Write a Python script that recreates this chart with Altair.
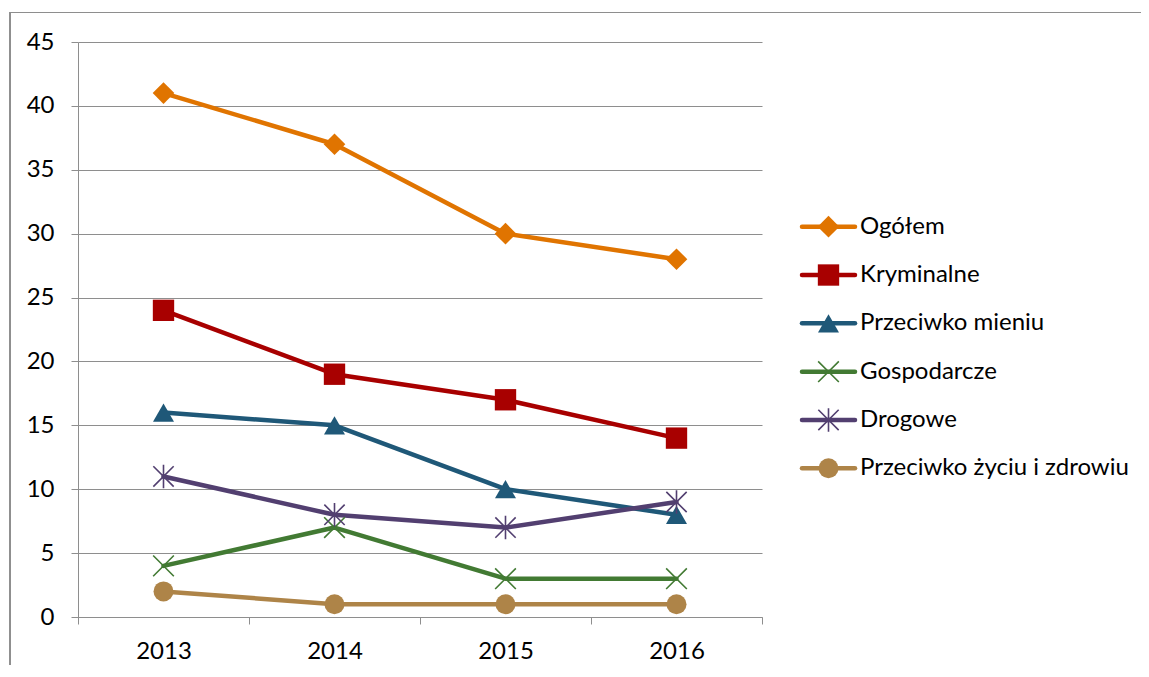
import altair as alt
import pandas as pd

years = ["2013", "2014", "2015", "2016"]
series = ["Ogółem", "Kryminalne", "Przeciwko mieniu", "Gospodarcze", "Drogowe",
          "Przeciwko życiu i zdrowiu"]
ogolem = [41, 37, 30, 28]
kryminalne = [24, 19, 17, 14]
przeciwko_mieniu = [16, 15, 10, 8]
gospodarcze = [4, 7, 3, 3]
drogowe = [11, 8, 7, 9]
przeciwko_zyciu = [2, 1, 1, 1]
y_ticks = [0, 5, 10, 15, 20, 25, 30, 35, 40, 45]

colors = ["#E07400", "#A80000", "#1F5878", "#427A33", "#523F70", "#AE8448"]
X_PATH = "M-1,-1L1,1M-1,1L1,-1"
STAR_PATH = "M-1,-1L1,1M-1,1L1,-1M0,-1.15L0,1.15"
shapes = ["diamond", "square", "triangle-up", X_PATH, STAR_PATH, "circle"]
sizes = [470, 400, 430, 361, 361, 420]
filled_series = ["Ogółem", "Kryminalne", "Przeciwko mieniu", "Przeciwko życiu i zdrowiu"]
stroked_series = ["Gospodarcze", "Drogowe"]

values = [ogolem, kryminalne, przeciwko_mieniu, gospodarcze, drogowe, przeciwko_zyciu]
rows = []
for s, vals in zip(series, values):
    for yr, v in zip(years, vals):
        rows.append({"series": s, "year": yr, "value": v})
df = pd.DataFrame(rows)
df_leg = pd.DataFrame({"series": series})

FONT = "Lato"
FS = 24
W, H = 1131, 650
GRID = "#8E8E8E"
TEXT = "#000000"

color_enc = alt.Color("series:N", scale=alt.Scale(domain=series, range=colors), legend=None)
shape_enc = alt.Shape("series:N", scale=alt.Scale(domain=series, range=shapes), legend=None)
size_enc = alt.Size("series:N", scale=alt.Scale(domain=series, range=sizes), legend=None)

x_enc = alt.X(
    "year:N",
    sort=years,
    scale=alt.Scale(domain=years, range=[68, 752], paddingInner=0, paddingOuter=0),
    axis=alt.Axis(
        title=None, orient="bottom", offset=605 - H, tickBand="extent", tickSize=7,
        domainColor=GRID, tickColor=GRID, domainWidth=1, tickWidth=1,
        labelFont=FONT, labelFontSize=FS, labelColor=TEXT, labelAngle=0,
        labelBaseline="alphabetic", labelPadding=34, grid=False,
    ),
)
y_enc = alt.Y(
    "value:Q",
    scale=alt.Scale(domain=[0, 45], range=[605, 30], nice=False, zero=True),
    axis=alt.Axis(
        title=None, orient="left", offset=-68, values=y_ticks, tickSize=7,
        domainColor=GRID, tickColor=GRID, gridColor=GRID, grid=True, gridWidth=1,
        labelFont=FONT, labelFontSize=FS, labelColor=TEXT, labelPadding=17,
    ),
)

lines = alt.Chart(df).mark_line(strokeWidth=4.5, strokeCap="round", strokeJoin="round").encode(
    x=x_enc, y=y_enc, color=color_enc
)
pts_filled = alt.Chart(df).transform_filter(
    alt.FieldOneOfPredicate(field="series", oneOf=filled_series)
).mark_point(filled=True, opacity=1).encode(
    x=x_enc, y=y_enc, color=color_enc, shape=shape_enc, size=size_enc
)
pts_stroked = alt.Chart(df).transform_filter(
    alt.FieldOneOfPredicate(field="series", oneOf=stroked_series)
).mark_point(filled=False, opacity=1, strokeWidth=1.6).encode(
    x=x_enc, y=y_enc, color=color_enc, shape=shape_enc, size=size_enc
)
main = alt.layer(lines, pts_filled, pts_stroked)

leg_x_scale = alt.Scale(domain=[0, 1], range=[792, 845], nice=False, zero=False)
leg_y = alt.Y("series:N", sort=series,
              scale=alt.Scale(type="point", domain=series, range=[214.7, 456.3], padding=0),
              axis=None)

leg_rule = alt.Chart(df_leg).mark_rule(strokeWidth=4.5, strokeCap="round").encode(
    x=alt.XDatum(0, type="quantitative", scale=leg_x_scale, axis=None),
    x2=alt.X2Datum(1),
    y=leg_y, color=color_enc,
)
leg_pts_f = alt.Chart(df_leg).transform_filter(
    alt.FieldOneOfPredicate(field="series", oneOf=filled_series)
).mark_point(filled=True, opacity=1).encode(
    x=alt.XDatum(0.5, type="quantitative", scale=leg_x_scale, axis=None),
    y=leg_y, color=color_enc, shape=shape_enc, size=size_enc,
)
leg_pts_s = alt.Chart(df_leg).transform_filter(
    alt.FieldOneOfPredicate(field="series", oneOf=stroked_series)
).mark_point(filled=False, opacity=1, strokeWidth=1.6).encode(
    x=alt.XDatum(0.5, type="quantitative", scale=leg_x_scale, axis=None),
    y=leg_y, color=color_enc, shape=shape_enc, size=size_enc,
)
leg_text = alt.Chart(df_leg).mark_text(
    align="left", baseline="middle", dx=5, font=FONT, fontSize=FS, color=TEXT
).encode(
    x=alt.XDatum(1, type="quantitative", scale=leg_x_scale, axis=None),
    y=leg_y, text="series:N",
)
legend = alt.layer(leg_rule, leg_pts_f, leg_pts_s, leg_text)

frame_top = alt.Chart(df_leg).mark_rule(color=GRID, strokeWidth=1).encode(
    x=alt.value(0), x2=alt.value(W), y=alt.value(0.5)
)
frame_left = alt.Chart(df_leg).mark_rule(color=GRID, strokeWidth=1).encode(
    x=alt.value(0), y=alt.value(0), y2=alt.value(H + 3)
)

chart = alt.layer(main, legend, frame_top, frame_left).resolve_scale(
    x="independent", y="independent"
).properties(
    width=W, height=H,
    autosize=alt.AutoSizeParams(type="none"),
    padding={"left": 2, "top": 4, "right": 0, "bottom": 3},
    background="white",
).configure_view(stroke=None)

chart.save("out.html", embed_options={"renderer": "svg", "actions": False})
